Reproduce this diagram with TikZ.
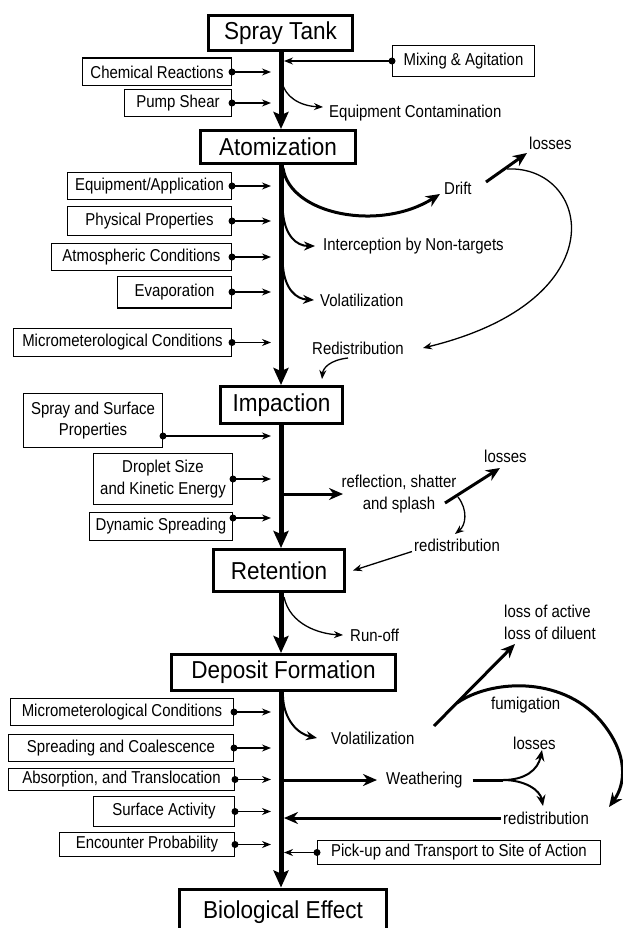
\documentclass[tikz,border=0pt]{standalone}
\usepackage{fontspec}
\setmainfont{Liberation Sans}[FakeStretch=0.92]
\newfontfamily\narrowsans{Liberation Sans}[FakeStretch=0.87]
\usetikzlibrary{arrows.meta}
\begin{document}
\begin{tikzpicture}[x=1pt,y=-1pt,
 mainbox/.style={draw, line width=3pt, font=\fontsize{24.5}{29}\selectfont, inner sep=0pt},
 sidebox/.style={draw, line width=1.4pt, font=\narrowsans\fontsize{17.2}{21.5}\selectfont, inner sep=1pt, align=center},
 lbl/.style={font=\narrowsans\fontsize{17.2}{21.5}\selectfont, inner sep=0pt, anchor=west},
 spine/.style={line width=5pt, -{Stealth[length=17pt,width=15pt,inset=3pt]}},
 thinarr/.style={line width=1.3pt, -{Stealth[length=9pt,width=7pt]}},
 thickarr/.style={line width=3pt, -{Stealth[length=14pt,width=12pt]}},
 midarr/.style={line width=2pt, -{Stealth[length=11pt,width=9pt]}},
 dot/.style={circle, fill=black, inner sep=0pt, minimum size=7pt},
]
\useasboundingbox (0,0) rectangle (622,928);
\coordinate (sp) at (281,0);
\coordinate (ax) at (271,0);
\coordinate (sr) at (284,0);

% main boxes
\node[mainbox, minimum width=144pt, minimum height=35pt] (spray) at (280.5,33) {Spray Tank};
\node[mainbox, minimum width=155pt, minimum height=33pt] (atom) at (278,147) {Atomization};
\node[mainbox, minimum width=122pt, minimum height=37pt] (impact) at (281.5,405) {Impaction};
\node[mainbox, minimum width=131pt, minimum height=42pt] (retent) at (279,570.5) {Retention};
\node[mainbox, minimum width=224pt, minimum height=36pt] (deposit) at (283.5,672.5) {Deposit Formation};
\node[mainbox, minimum width=207pt, minimum height=46pt] (bio) at (283,912) {Biological Effect};

% spine
\draw[spine] (spray.south -| sp) -- (atom.north -| sp);
\draw[spine] (atom.south -| sp) -- (impact.north -| sp);
\draw[spine] (impact.south -| sp) -- (retent.north -| sp);
\draw[spine] (retent.south -| sp) -- (deposit.north -| sp);
\draw[spine] (deposit.south -| sp) -- (bio.north -| sp);

% side boxes
\node[sidebox, minimum width=148.6pt, minimum height=27.6pt] (chem) at (157,72) {Chemical Reactions};
\node[sidebox, minimum width=106.6pt, minimum height=26.6pt] (pump) at (178,103) {Pump Shear};
\node[sidebox, minimum width=141.6pt, minimum height=30.6pt] (mix) at (463.5,61) {Mixing \& Agitation};
\node[sidebox, minimum width=163.6pt, minimum height=26.6pt] (eq) at (149.5,186) {Equipment/Application};
\node[sidebox, minimum width=163.6pt, minimum height=28.6pt] (phys) at (149.5,221) {Physical Properties};
\node[sidebox, minimum width=179.6pt, minimum height=26.6pt] (atm) at (141.5,257) {Atmospheric Conditions};
\node[sidebox, minimum width=113.6pt, minimum height=31.6pt] (evap) at (174.5,292) {Evaporation};
\node[sidebox, minimum width=217.6pt, minimum height=27.6pt] (micro) at (122.5,342.5) {Micrometerological Conditions};
\node[sidebox, minimum width=138.6pt, minimum height=53.6pt] (ss) at (93,420.5) {Spray and Surface\\Properties};
\node[sidebox, minimum width=138.6pt, minimum height=50.6pt] (drop) at (163,479) {Droplet Size\\and Kinetic Energy};
\node[sidebox, minimum width=142.6pt, minimum height=27.6pt] (dyn) at (161,526.5) {Dynamic Spreading};
\node[sidebox, minimum width=222.6pt, minimum height=26.6pt] (dmicro) at (122,712) {Micrometerological Conditions};
\node[sidebox, minimum width=224.6pt, minimum height=26.6pt] (spread) at (121,748) {Spreading and Coalescence};
\node[sidebox, minimum width=225.6pt, minimum height=21.6pt] (absorp) at (121.5,779.5) {Absorption, and Translocation};
\node[sidebox, minimum width=140.6pt, minimum height=29.6pt] (surf) at (164,811.5) {Surface Activity};
\node[sidebox, minimum width=174.6pt, minimum height=23.6pt] (enc) at (147,844.5) {Encounter Probability};
\node[sidebox, minimum width=282.6pt, minimum height=23.6pt] (pick) at (459,852.5) {Pick-up and Transport to Site of Action};

% side arrows
\coordinate (ssy) at (0,436);
\coordinate (dyny) at (0,518);
\foreach \b in {chem,pump,eq,phys,atm,evap,micro,drop,dmicro,spread,absorp,surf,enc}
  \draw[thinarr] (\b.east) node[dot]{} -- (\b.east -| ax);
\draw[thinarr] (ss.east |- ssy) node[dot]{} -- (ssy -| ax);
\draw[thinarr] (dyn.east |- dyny) node[dot]{} -- (dyny -| ax);
\draw[thinarr] (mix.west) node[dot]{} -- (mix.west -| sr);
\draw[thinarr] (pick.west) node[dot]{} -- (pick.west -| sr);

% labels
\node[lbl] (eqc) at (329,113) {Equipment Contamination};
\node[lbl] (drift) at (444,188) {Drift};
\node[lbl] (loss1) at (529,143) {losses};
\node[lbl] (interc) at (323,246) {Interception by Non-targets};
\node[lbl] (volat1) at (320,300) {Volatilization};
\node[lbl] (redis1) at (312,348) {Redistribution};
\node[lbl, anchor=center, align=center] (refl) at (399,494) {reflection, shatter\\and splash};
\node[lbl] (loss2) at (484,456) {losses};
\node[lbl] (redis2) at (414,545) {redistribution};
\node[lbl] (runoff) at (350,635) {Run-off};
\node[lbl] (volat2) at (331,738) {Volatilization};
\node[lbl, align=left] (lossact) at (504,622.5) {loss of active\\loss of diluent};
\node[lbl] (fumig) at (491,705) {fumigation};
\node[lbl] (weath) at (386,780) {Weathering};
\node[lbl] (loss3) at (513,743) {losses};
\node[lbl] (redis3) at (503,818) {redistribution};

% spray tank stage
\draw[thinarr] (282,82) .. controls (285,97) and (300,106) .. (323,107);

% atomization stage
\draw[thickarr] (283,168) .. controls (290,215) and (380,232) .. (440,194);
\draw[thickarr] (486,182) -- (527,153);
\draw[thinarr] (507,169) .. controls (590,165) and (620,300) .. (423,348);
\draw[midarr] (283,213) .. controls (285,235) and (296,246) .. ([xshift=-8pt]interc.west);
\draw[midarr] (283,267) .. controls (285,289) and (296,299) .. ([xshift=-6pt]volat1.west);
\draw[thinarr] (348,358) .. controls (330,360) and (323,368) .. (322,379);

% impaction stage
\draw[thickarr] (283,494) -- (343,494);
\draw[thickarr] (445,503) -- (500,468);
\draw[thinarr] (458,497) .. controls (468,510) and (466,525) .. (455,534);
\draw[thinarr] ([xshift=-2pt]redis2.south west) -- ([xshift=7pt]retent.east);

% retention stage
\draw[thinarr] (284,597) .. controls (290,625) and (320,634) .. ([xshift=-7pt]runoff.west);

% deposit stage
\draw[midarr] (283,697) .. controls (284,720) and (298,734) .. ([xshift=-14pt]volat2.west);
\draw[thickarr] (434,726) -- (515,644);
\draw[thickarr] (457,703) .. controls (490,680) and (560,675) .. (600,720) .. controls (630,755) and (625,785) .. (609,807);
\draw[thickarr] (283,780) -- ([xshift=-9pt]weath.west);
\coordinate (wsplit) at (503,780);
\draw[line width=3pt] ([xshift=10pt]weath.east) -- (wsplit);
\draw[midarr] (wsplit) .. controls (525,780) and (538,770) .. (542,750);
\draw[midarr] (wsplit) .. controls (525,780) and (540,790) .. (543,806);
\draw[thickarr] ([xshift=-2pt]redis3.west) -- (redis3.west -| sr);
\end{tikzpicture}
\end{document}
